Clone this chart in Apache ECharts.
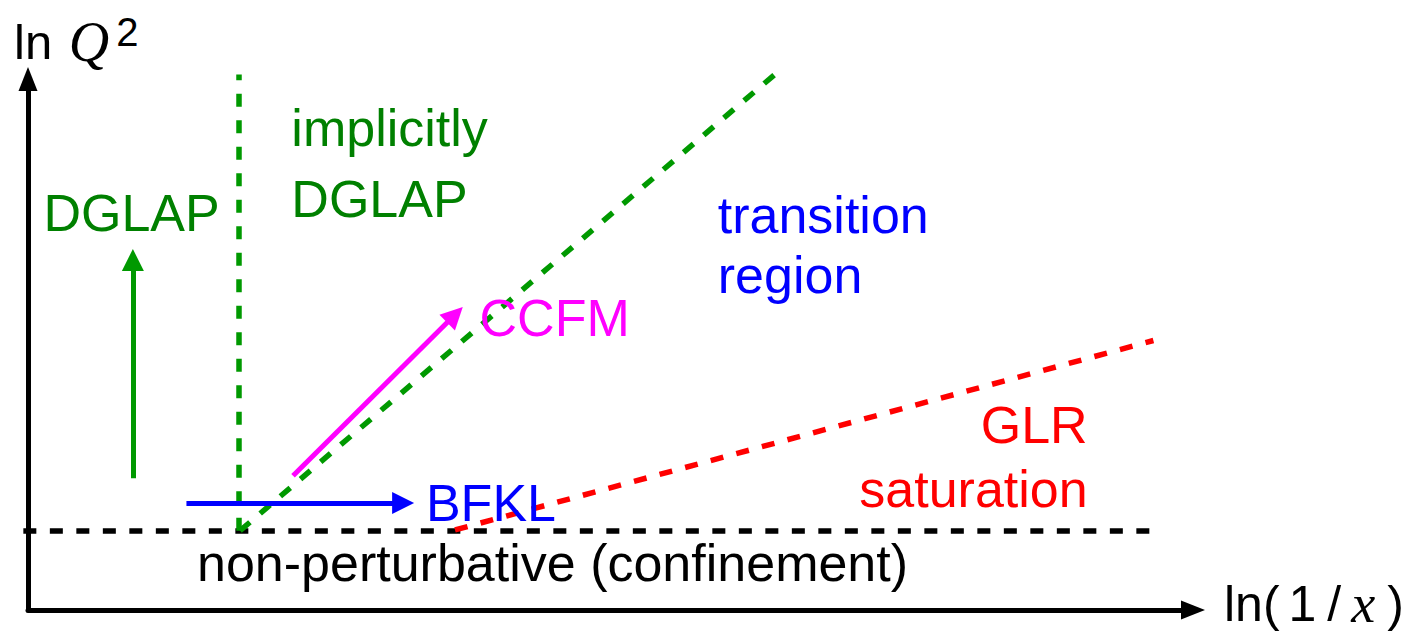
<!DOCTYPE html>
<html><head><meta charset="utf-8">
<script src="https://cdn.jsdelivr.net/npm/echarts@6/dist/echarts.min.js"></script>
<style>html,body{margin:0;padding:0;background:#fff}#c{width:1412px;height:635px}</style>
</head><body><div id="c"></div>
<script>
// Diagram units: x = ln(1/x), y = ln Q^2 (arbitrary units)
// Region boundaries
const confinementLine = [[-0.4, 6.8], [96.3, 6.8]];
const dglapBoundary   = [[18.1, 6.8], [18.1, 45.9]];
const ccfmBoundary    = [[18.2, 6.8], [64.1, 45.9]];
const saturationLine  = [[36.65, 6.86], [96.6, 23.1]];
// Evolution arrows
const dglapArrow = [[9.0, 11.3], [9.0, 30.0]];
const bfklArrow  = [[13.6, 9.17], [32.2, 9.17]];
const ccfmArrow  = [[22.75, 11.5], [36.65, 25.3]];
// Region labels: text, anchor [x, y], alignment
const labelTexts  = ['DGLAP', 'implicitly', 'DGLAP', 'transition', 'region', 'CCFM', 'GLR', 'saturation', 'BFKL', 'non-perturbative (confinement)'];
const labelPos    = [[8.93, 34.0], [22.65, 41.3], [22.65, 35.15], [59.25, 33.85], [59.25, 28.7], [38.8, 24.95], [91.0, 15.85], [91.0, 10.3], [34.2, 9.17], [14.55, 3.95]];
const labelAlign  = ['center', 'left', 'left', 'left', 'left', 'left', 'right', 'right', 'left', 'left'];
const labelColor  = ['#008000', '#008000', '#008000', '#0000ff', '#0000ff', '#ff00ff', '#ff0000', '#ff0000', '#0000ff', '#000000'];

const SANS = '"Liberation Sans", Arial, Helvetica, sans-serif';
const SERIF = '"Liberation Serif", "Times New Roman", serif';
const GREEN_LINE = '#009900';
const DASH = [13, 13.5];

function seg(coords, color, dashed, arrow) {
  return {
    type: 'lines', coordinateSystem: 'cartesian2d', clip: false, silent: true,
    symbol: arrow ? ['none', 'triangle'] : ['none', 'none'],
    symbolSize: arrow ? 22 : 0,
    lineStyle: { color: color, width: dashed ? 5.5 : 5, type: dashed ? DASH : 'solid', opacity: 1, cap: 'butt' },
    data: [{ coords: coords }]
  };
}

const chart = echarts.init(document.getElementById('c'), null, { renderer: 'svg' });
function axis(max, offset) {
  return {
    type: 'value', min: 0, max: max,
    axisLine: { show: true, symbol: ['none', 'triangle'], symbolSize: [19, 24], symbolOffset: [0, offset],
      lineStyle: { color: '#000', width: 5 } },
    axisTick: { show: false }, axisLabel: { show: false }, splitLine: { show: false }
  };
}
chart.setOption({
  animation: false,
  backgroundColor: '#fff',
  grid: { left: 28, right: 219, top: 85, bottom: 25, containLabel: false },
  xAxis: axis(100, 0),
  yAxis: axis(45, 6),
  graphic: [
    { type: 'text', left: 14, top: 12, silent: true,
      style: { text: '{a|ln }{q|Q}{s|2}',
        rich: {
          a: { fontSize: 49, fontFamily: SANS, fill: '#000', lineHeight: 60 },
          q: { fontSize: 56, fontFamily: SERIF, fontStyle: 'italic', fill: '#000', lineHeight: 60, padding: [0, 0, 0, 3] },
          s: { fontSize: 40, fontFamily: SANS, fill: '#000', lineHeight: 18, verticalAlign: 'top', padding: [0, 2, 0, 7] }
        } } },
    { type: 'text', left: 1224, top: 577, silent: true,
      style: { text: '{a|ln(}{o|1}{b|/}{c|x}{d|)}',
        rich: {
          a: { fontSize: 50, fontFamily: SANS, fill: '#000', lineHeight: 50, padding: [0, 3, 0, 0] },
          o: { fontSize: 50, fontFamily: SANS, fill: '#000', lineHeight: 50, padding: [0, 8, 0, 6] },
          b: { fontSize: 50, fontFamily: SANS, fill: '#000', lineHeight: 50, padding: [0, 6, 0, 3] },
          c: { fontSize: 54, fontFamily: SERIF, fontStyle: 'italic', fill: '#000', lineHeight: 50, padding: [0, 12, 0, 4] },
          d: { fontSize: 50, fontFamily: SANS, fill: '#000', lineHeight: 50 }
        } } }
  ],
  series: [
    seg(confinementLine, '#000000', true, false),
    seg(dglapBoundary, GREEN_LINE, true, false),
    seg(ccfmBoundary, GREEN_LINE, true, false),
    seg(saturationLine, '#ff0000', true, false),
    seg(dglapArrow, GREEN_LINE, false, true),
    seg(bfklArrow, '#0000ff', false, true),
    seg(ccfmArrow, '#ff00ff', false, true),
    {
      type: 'scatter', silent: true, symbolSize: 1, itemStyle: { color: 'rgba(0,0,0,0)', opacity: 1 }, z: 10,
      data: labelTexts.map((t, i) => ({
        value: labelPos[i],
        label: { show: true, formatter: t, position: [0, 0], align: labelAlign[i], verticalAlign: 'middle',
          color: labelColor[i], opacity: 1, fontSize: 52, fontFamily: SANS }
      }))
    }
  ]
});
</script></body></html>
